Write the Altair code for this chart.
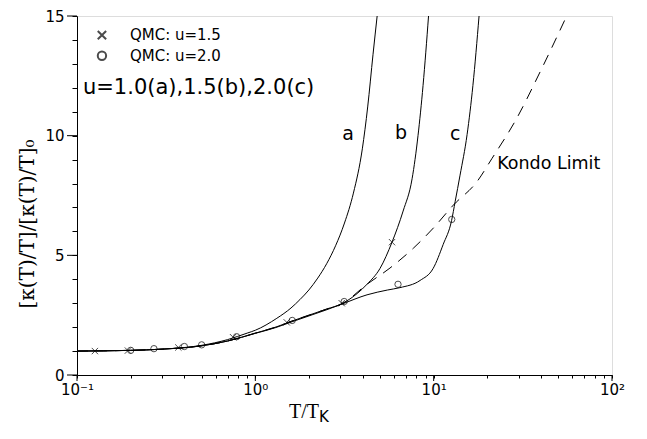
import altair as alt
import pandas as pd

# ---- data ----
a_T = [0.1, 0.2, 0.3, 0.5, 0.7, 0.9, 1.0, 1.32, 1.585, 1.778, 1.995, 2.239, 2.512, 2.818, 3.162, 3.548, 3.981, 4.266, 4.571, 4.82]
a_Y = [1.0, 1.03, 1.08, 1.24, 1.48, 1.75, 1.87, 2.37, 2.8, 3.15, 3.55, 4.05, 4.65, 5.4, 6.35, 7.6, 9.45, 11.2, 13.4, 15.0]

b_T = [0.1, 0.2, 0.3, 0.5, 0.7, 1.0, 1.3, 1.6, 2.0, 2.5, 3.1, 3.27, 4.24, 5.0, 5.84, 6.74, 7.57, 8.17, 8.72, 9.36]
b_Y = [1.0, 1.03, 1.08, 1.22, 1.42, 1.75, 2.0, 2.25, 2.5, 2.75, 3.0, 3.1, 3.8, 4.45, 5.55, 6.85, 8.2, 10.0, 12.1, 15.0]

c_T = [0.1, 0.2, 0.3, 0.5, 0.7, 1.0, 1.3, 1.6, 2.0, 2.5, 3.1, 4.23, 5.5, 6.47, 8.39, 9.93, 11.3, 12.6, 13.2, 14.06, 15.4, 16.6, 17.97]
c_Y = [1.0, 1.03, 1.08, 1.22, 1.42, 1.74, 1.98, 2.22, 2.47, 2.72, 2.98, 3.35, 3.55, 3.65, 3.95, 4.45, 5.45, 6.45, 7.25, 8.35, 10.05, 12.1, 15.0]

k_T = [0.1, 0.2, 0.3, 0.5, 0.7, 1.0, 1.3, 1.6, 2.0, 2.5, 3.1, 4.21, 5.69, 7.70, 9.96, 12.9, 17.5, 21.2, 29.2, 39.5, 55.7]
k_Y = [1.0, 1.03, 1.08, 1.22, 1.42, 1.75, 2.0, 2.25, 2.5, 2.75, 3.0, 3.78, 4.47, 5.3, 6.14, 7.1, 8.08, 9.04, 10.72, 12.66, 15.0]

cross_T = [0.126, 0.193, 0.37, 0.75, 1.5, 3.05, 5.84]
cross_Y = [1.0, 1.02, 1.15, 1.58, 2.2, 3.0, 5.55]

circ_T = [0.2, 0.27, 0.40, 0.50, 0.785, 1.61, 3.15, 6.31, 12.63]
circ_Y = [1.03, 1.1, 1.19, 1.26, 1.6, 2.28, 3.07, 3.79, 6.5]

x_ticks = [0.1, 0.2, 0.3, 0.4, 0.5, 0.6, 0.7, 0.8, 0.9,
           1, 2, 3, 4, 5, 6, 7, 8, 9,
           10, 20, 30, 40, 50, 60, 70, 80, 90, 100]
x_major = [0.1, 1, 10, 100]
y_ticks = list(range(0, 16))
y_major = [0, 5, 10, 15]

W, H = 535, 359
FONT = "DejaVu Sans"
SERIF = "Liberation Serif"

curves = pd.concat([
    pd.DataFrame({"T": a_T, "Y": a_Y, "s": "a"}),
    pd.DataFrame({"T": b_T, "Y": b_Y, "s": "b"}),
    pd.DataFrame({"T": c_T, "Y": c_Y, "s": "c"}),
])
kondo = pd.DataFrame({"T": k_T, "Y": k_Y})
crosses = pd.DataFrame({"T": cross_T, "Y": cross_Y})
circles = pd.DataFrame({"T": circ_T, "Y": circ_Y})

xscale = alt.Scale(type="log", domain=[0.1, 100], nice=False)
yscale = alt.Scale(domain=[0, 15], nice=False, zero=False)

x_label_expr = ("datum.value == 0.1 ? '10\u207b\u00b9' : datum.value == 1 ? '10\u2070' : "
                "datum.value == 10 ? '10\u00b9' : datum.value == 100 ? '10\u00b2' : ''")

xaxis = alt.Axis(values=x_ticks, labelExpr=x_label_expr, title=None, grid=False,
                 labelOverlap=False, labelFlush=False, labelFont=FONT, labelFontSize=15,
                 labelColor="black", domainColor="black", tickColor="black", labelPadding=4,
                 tickSize=3)
yaxis = alt.Axis(values=y_ticks, labelExpr="datum.value % 5 == 0 ? datum.label : ''", title=None,
                 grid=False, labelOverlap=False, labelFlush=False, labelFont=FONT, labelFontSize=15,
                 labelColor="black", domainColor="black", tickColor="black", labelPadding=8,
                 tickSize=5)

X = alt.X("T:Q", scale=xscale, axis=xaxis)
Y = alt.Y("Y:Q", scale=yscale, axis=yaxis)

lines = alt.Chart(curves).mark_line(color="black", strokeWidth=1, clip=True, interpolate="monotone").encode(
    x=X, y=Y, detail="s:N")
kline = alt.Chart(kondo).mark_line(color="black", strokeWidth=1, strokeDash=[11, 8], clip=True,
                                    interpolate="monotone").encode(x=X, y=Y)
xpts = alt.Chart(crosses).mark_point(shape="M-1,-1L1,1M1,-1L-1,1", size=40, color="black",
                                      strokeWidth=1, filled=False).encode(x=X, y=Y)
opts = alt.Chart(circles).mark_point(shape="circle", size=40, color="black",
                                      strokeWidth=1, filled=False).encode(x=X, y=Y)

# longer major ticks
xmaj = alt.Chart(pd.DataFrame({"T": x_major})).mark_rule(color="black", strokeWidth=1).encode(
    x=X, y=alt.value(H), y2=alt.value(H + 6))
ymaj = alt.Chart(pd.DataFrame({"Y": y_major})).mark_rule(color="black", strokeWidth=1).encode(
    y=Y, x=alt.value(-10), x2=alt.value(0))

# legend symbols and text
leg_x = alt.Chart(pd.DataFrame({"T": [0.138], "Y": [14.2]})).mark_point(
    shape="M-1,-1L1,1M1,-1L-1,1", size=70, color="black", filled=False).encode(x=X, y=Y)
leg_o = alt.Chart(pd.DataFrame({"T": [0.138], "Y": [13.34]})).mark_point(
    shape="circle", size=70, color="black", filled=False).encode(x=X, y=Y)
leg_txt = pd.DataFrame({"T": [0.198, 0.198], "Y": [14.2, 13.34], "t": ["QMC: u=1.5", "QMC: u=2.0"]})
leg_t = alt.Chart(leg_txt).mark_text(align="left", baseline="middle", font=FONT, fontSize=15,
                                      color="black").encode(x=X, y=Y, text="t:N")

big = pd.DataFrame({"T": [0.108], "Y": [12.0], "t": ["u=1.0(a),1.5(b),2.0(c)"]})
big_t = alt.Chart(big).mark_text(align="left", baseline="middle", font=FONT, fontSize=21,
                                  color="black").encode(x=X, y=Y, text="t:N")

abc = pd.DataFrame({"T": [3.31, 6.56, 13.2], "Y": [10.05, 10.1, 10.05], "t": ["a", "b", "c"]})
abc_t = alt.Chart(abc).mark_text(align="center", baseline="middle", font=FONT, fontSize=19,
                                  color="black").encode(x=X, y=Y, text="t:N")

kl = pd.DataFrame({"T": [22.7], "Y": [8.82], "t": ["Kondo Limit"]})
kl_t = alt.Chart(kl).mark_text(align="left", baseline="middle", font=FONT, fontSize=17.5,
                                color="black").encode(x=X, y=Y, text="t:N")

# axis titles
xt1 = alt.Chart(pd.DataFrame({"t": ["T/T"]})).mark_text(
    align="right", baseline="alphabetic", font=SERIF, fontSize=20, color="black").encode(
    x=alt.value(242), y=alt.value(402), text="t:N")
xt2 = alt.Chart(pd.DataFrame({"t": ["K"]})).mark_text(
    align="left", baseline="alphabetic", font=FONT, fontSize=15, color="black").encode(
    x=alt.value(242), y=alt.value(406), text="t:N")
yt = alt.Chart(pd.DataFrame({"t": ["[\u03ba(T)/T]/[\u03ba(T)/T]\u2080"]})).mark_text(
    align="center", baseline="middle", font="DejaVu Serif", fontSize=20, angle=270, color="black").encode(
    x=alt.value(-49), y=alt.value(208), text="t:N")

chart = alt.layer(lines, kline, xpts, opts, xmaj, ymaj, leg_x, leg_o, leg_t, big_t, abc_t, kl_t,
                  xt1, xt2, yt).properties(
    width=W, height=H,
    autosize=alt.AutoSizeParams(type="none"),
    padding={"left": 69, "top": 8, "right": 20, "bottom": 55},
).configure_view(stroke="black", strokeWidth=1).configure(background="white")

chart.save("out.html", embed_options={"renderer": "svg", "actions": False})
